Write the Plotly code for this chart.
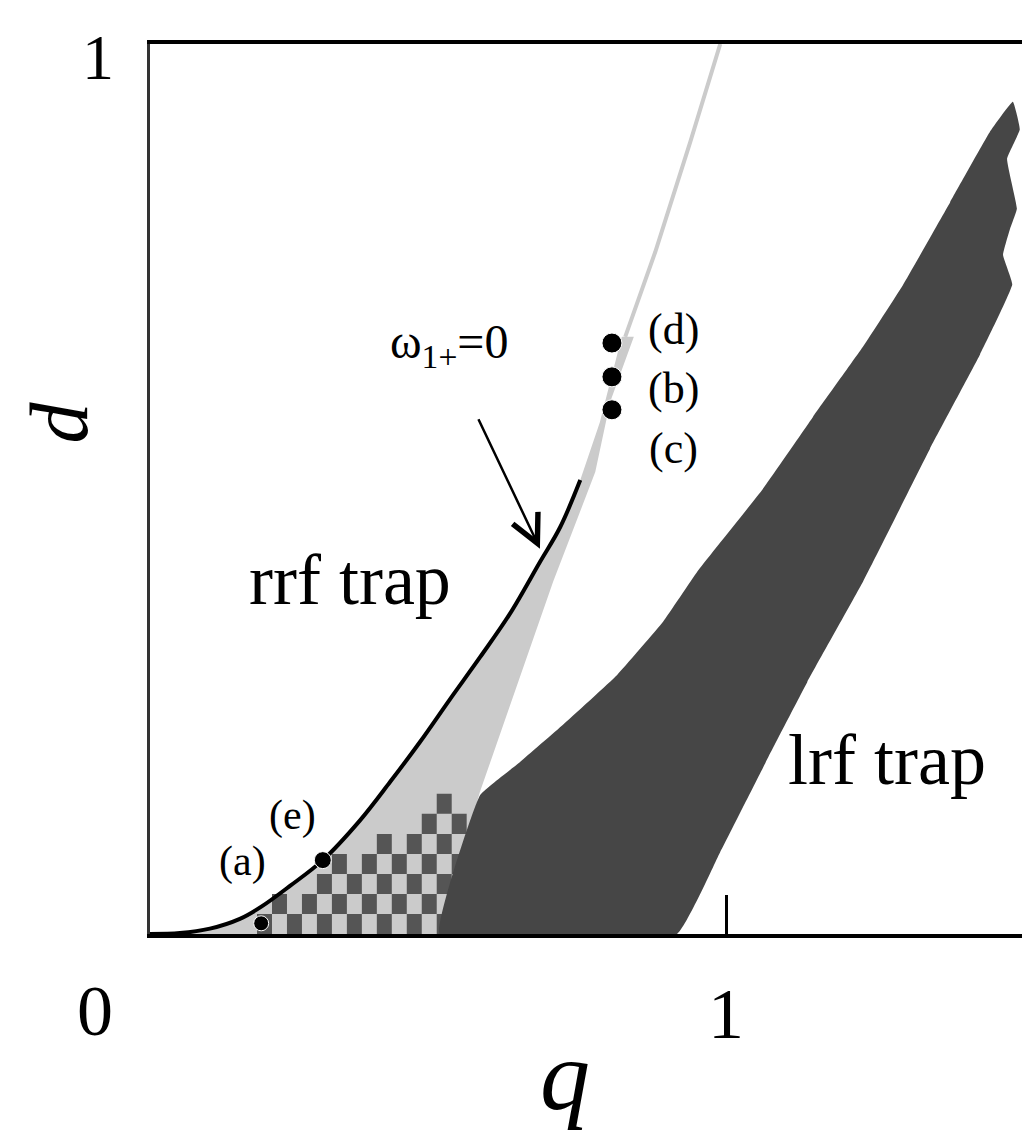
import plotly.graph_objects as go

# 境界線 ω1+=0 (rrf trap の境界)
curve_q = [0.0, 0.052, 0.104, 0.156, 0.194, 0.243, 0.300, 0.365, 0.417, 0.469,
           0.521, 0.573, 0.625, 0.677, 0.712, 0.747]
curve_d = [0.0, 0.001, 0.006, 0.017, 0.031, 0.054, 0.083, 0.128, 0.171, 0.216,
           0.264, 0.311, 0.360, 0.418, 0.457, 0.510]

# 薄灰色領域の右側 (上から下へ)
grey_right_q = [0.781, 0.819, 0.840, 0.799, 0.773, 0.700, 0.573, 0.503]
grey_right_d = [0.575, 0.671, 0.671, 0.598, 0.519, 0.396, 0.160, 0.0]

# 薄灰色の細い線 (上端まで)
thin_q = [0.825, 0.877, 0.938, 0.990]
thin_d = [0.671, 0.766, 0.890, 1.0]

# lrf trap (濃灰色) の輪郭
lrf_q = [0.503, 0.573, 0.642, 0.717, 0.811, 0.891, 0.950, 1.064, 1.151, 1.238,
         1.307, 1.389, 1.458, 1.498, 1.510, 1.488, 1.505, 1.493, 1.481, 1.497,
         1.441, 1.354, 1.238, 1.141, 1.069, 0.990, 0.915]
lrf_d = [0.0, 0.156, 0.193, 0.235, 0.291, 0.351, 0.407, 0.500, 0.581, 0.660,
         0.729, 0.822, 0.901, 0.935, 0.904, 0.871, 0.815, 0.792, 0.763, 0.730,
         0.651, 0.545, 0.396, 0.283, 0.193, 0.092, 0.0]

# 市松模様: 行ごとの開始列 (下から)
checker_start = [-1, 1, 3, 5, 8, 11, 12]
checker_end = 13
checker_q0 = 0.1858
checker_dq = 0.026
checker_dd = 0.0225

# 点 (a)-(e)
pt_q = [0.193, 0.300, 0.802, 0.802, 0.802]
pt_d = [0.012, 0.083, 0.664, 0.626, 0.589]

FONT = 'Liberation Serif'
LIGHT = '#cbcbcb'
DARK = '#464646'

fig = go.Figure()

# 薄灰色領域
fig.add_trace(go.Scatter(
    x=curve_q + grey_right_q + [0.0], y=curve_d + grey_right_d + [0.0],
    fill='toself', fillcolor=LIGHT, mode='none', hoverinfo='skip'))

# 市松模様 (濃いマス)
cq, cd = [], []
for r, s in enumerate(checker_start):
    for c in range(s, checker_end + 1):
        if (r + c) % 2:
            continue
        x0 = checker_q0 + c * checker_dq
        y0 = r * checker_dd
        cq += [x0, x0 + checker_dq, x0 + checker_dq, x0, x0, None]
        cd += [y0, y0, y0 + checker_dd, y0 + checker_dd, y0, None]
fig.add_trace(go.Scatter(x=cq, y=cd, fill='toself', fillcolor='#555555',
                         mode='none', hoverinfo='skip'))

# lrf trap
fig.add_trace(go.Scatter(x=lrf_q + [lrf_q[0]], y=lrf_d + [lrf_d[0]],
                         fill='toself', fillcolor=DARK, mode='lines',
                         line=dict(width=0, shape='spline', smoothing=0.3),
                         hoverinfo='skip'))

# 細い線
fig.add_trace(go.Scatter(x=thin_q, y=thin_d, mode='lines',
                         line=dict(color=LIGHT, width=4), hoverinfo='skip'))

# ω1+=0 曲線
fig.add_trace(go.Scatter(x=curve_q, y=curve_d, mode='lines',
                         line=dict(color='black', width=4, shape='spline'),
                         hoverinfo='skip'))

# 点
fig.add_trace(go.Scatter(x=pt_q, y=pt_d, mode='markers',
                         marker=dict(color='black', opacity=1,
                                     size=[15, 17, 20, 20, 20]),
                         hoverinfo='skip'))

def lab(text, x, y, size, ref='x', dy=10, **kw):
    fig.add_annotation(text=text, x=x, y=y, xref=ref if ref == 'paper' else 'x',
                       yref=ref if ref == 'paper' else 'y', showarrow=False,
                       xanchor='center', yanchor='middle', yshift=dy,
                       font=dict(family=FONT, size=size, color='black'), **kw)

lab('rrf trap', 0.347, 0.387, 72)
lab('lrf trap', 1.280, 0.184, 72)
lab('ω<sub>1+</sub>=0', 0.519, 0.660, 48, dy=2)
lab('(d)', 0.908, 0.676, 44, dy=3)
lab('(b)', 0.908, 0.609, 44, dy=3)
lab('(c)', 0.908, 0.542, 44, dy=3)
lab('(a)', 0.161, 0.075, 42, dy=6)
lab('(e)', 0.248, 0.126, 42, dy=6)

# 矢印
fig.add_annotation(x=0.677, y=0.433, ax=0.569, ay=0.580, xref='x', yref='y',
                   axref='x', ayref='y', text='', showarrow=True,
                   arrowhead=5, arrowsize=2.2, arrowwidth=2.5, arrowcolor='black')

# 軸の目盛ラベルと軸ラベル
lab('0', -0.0625, -0.098, 72, ref='paper')
lab('1', -0.059, 0.985, 64, ref='paper', dy=0)
lab('<i>q</i>', 0.472, -0.17, 100, ref='paper')
lab('<i>d</i>', -0.103, 0.575, 82, ref='paper', dy=0, textangle=-90)

# ページ余白を差し引いた大きさ
fig.update_layout(
    width=1022, height=1123,
    margin=dict(l=142, r=0, t=36, b=197),
    plot_bgcolor='white', paper_bgcolor='white',
    showlegend=False,
    xaxis=dict(range=[0, 880 / 576], showgrid=False, zeroline=False,
               showline=True, linewidth=4, linecolor='black', mirror=True,
               tickvals=[1], ticktext=['1'], ticks='inside', ticklen=39,
               tickwidth=2.5, tickcolor='black', ticklabelstandoff=14,
               tickfont=dict(family=FONT, size=72, color='black')),
    yaxis=dict(range=[0, 1], showgrid=False, zeroline=False,
               showline=True, linewidth=2.5, linecolor='#333333',
               showticklabels=False, ticks=''),
)

fig.write_html("out.html")
